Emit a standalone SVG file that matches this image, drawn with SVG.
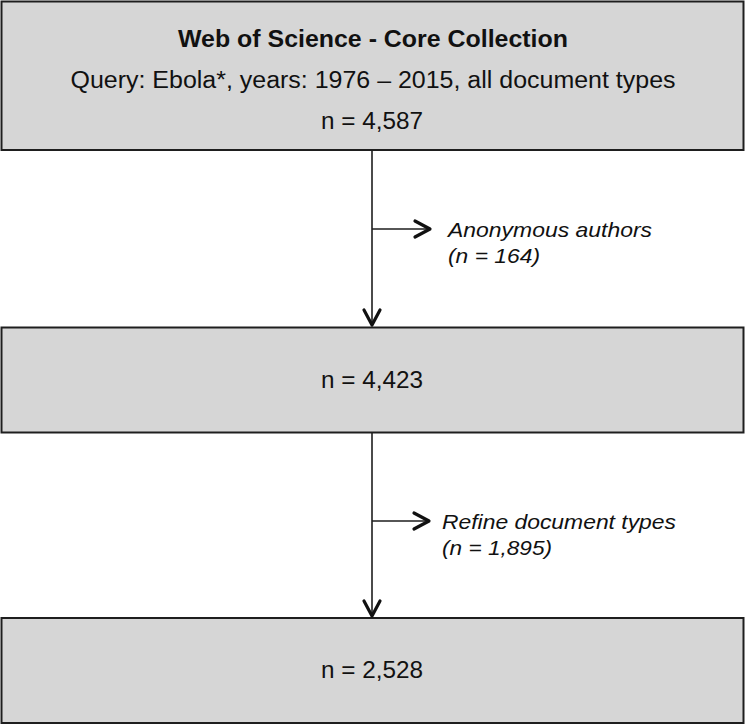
<svg xmlns="http://www.w3.org/2000/svg" width="745" height="726" viewBox="0 0 745 726">
  <defs>
    <style>
      .box { fill: #d6d6d6; stroke: #1e1e1e; stroke-width: 2; }
      .t { font-family: "Liberation Sans", Arial, sans-serif; font-size: 23px; fill: #111; }
      .c { text-anchor: middle; }
      .b { font-weight: bold; }
      .i { font-style: italic; font-size: 21px; }
      .conn { stroke: #1e1e1e; stroke-width: 1.6; fill: none; }
    </style>
    <marker id="chev" markerUnits="userSpaceOnUse" viewBox="-20 -12 24 24" refX="0" refY="0" markerWidth="24" markerHeight="24" orient="auto" overflow="visible">
      <path d="M-15,-8 L0,0 L-15,8" fill="none" stroke="#111" stroke-width="3.2" stroke-linecap="round" stroke-linejoin="round"/>
    </marker>
  </defs>
  <rect width="745" height="726" fill="#ffffff"/>

  <g id="node-wos">
    <rect class="box" x="1.5" y="1.5" width="742" height="148.5"/>
    <text class="t c b" x="373" y="47" textLength="390" lengthAdjust="spacingAndGlyphs">Web of Science - Core Collection</text>
    <text class="t c" x="373" y="88" textLength="605" lengthAdjust="spacingAndGlyphs">Query: Ebola*, years: 1976 – 2015, all document types</text>
    <text class="t c" x="372" y="129" textLength="102" lengthAdjust="spacingAndGlyphs">n = 4,587</text>
  </g>

  <g id="node-4423">
    <rect class="box" x="1.5" y="327.5" width="742" height="105"/>
    <text class="t c" x="372" y="388" textLength="102" lengthAdjust="spacingAndGlyphs">n = 4,423</text>
  </g>

  <g id="node-2528">
    <rect class="box" x="1.5" y="618" width="742" height="105"/>
    <text class="t c" x="372" y="678" textLength="102" lengthAdjust="spacingAndGlyphs">n = 2,528</text>
  </g>

  <g id="connectors">
    <line class="conn" x1="372" y1="150" x2="372" y2="325" marker-end="url(#chev)"/>
    <line class="conn" x1="372" y1="229" x2="430" y2="229" marker-end="url(#chev)"/>
    <line class="conn" x1="372" y1="433" x2="372" y2="616" marker-end="url(#chev)"/>
    <line class="conn" x1="372" y1="521" x2="429" y2="521" marker-end="url(#chev)"/>
  </g>

  <g id="label-anon">
    <text class="t i" x="448" y="237" textLength="204" lengthAdjust="spacingAndGlyphs">Anonymous authors</text>
    <text class="t i" x="448" y="263" textLength="92" lengthAdjust="spacingAndGlyphs">(n = 164)</text>
  </g>

  <g id="label-refine">
    <text class="t i" x="442" y="529" textLength="234" lengthAdjust="spacingAndGlyphs">Refine document types</text>
    <text class="t i" x="442" y="555" textLength="110" lengthAdjust="spacingAndGlyphs">(n = 1,895)</text>
  </g>
</svg>
